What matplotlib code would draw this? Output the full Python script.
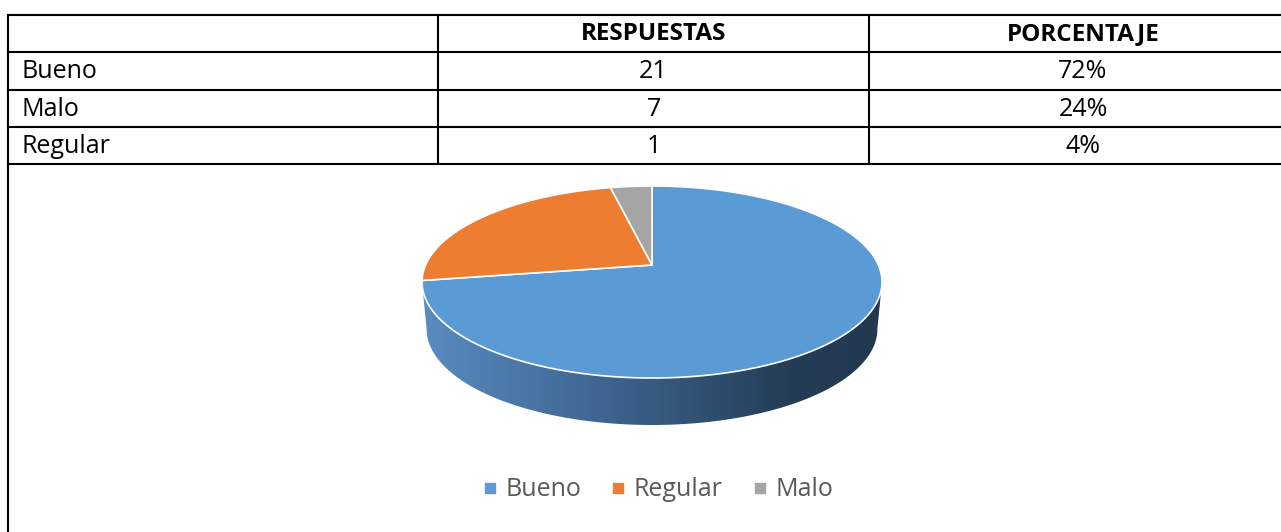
import numpy as np
import matplotlib
matplotlib.use('Agg')
import matplotlib.pyplot as plt
from matplotlib.patches import Polygon
from matplotlib.lines import Line2D
from matplotlib.colors import LinearSegmentedColormap

# ---------------- data ----------------
headers = ['', 'RESPUESTAS', 'PORCENTAJE']
row_labels = ['Bueno', 'Malo', 'Regular']
respuestas = ['21', '7', '1']
porcentaje = ['72%', '24%', '4%']

pie_labels = ['Bueno', 'Regular', 'Malo']
pie_values = [21, 7, 1]
pie_colors = ['#5B9BD5', '#ED7D31', '#A5A5A5']
side_colors = ['#5B9BD5', '#B05A20', '#7A7A7A']

# ---------------- figure ----------------
W, H = 1281, 532
fig = plt.figure(figsize=(W / 100, H / 100), dpi=100)
ax = fig.add_axes([0, 0, 1, 1])
ax.set_xlim(0, W)
ax.set_ylim(H, 0)
ax.axis('off')

TFONT = 'Open Sans'
lw = 1.5
xl, xc1, xc2, xr = 7.5, 438, 869, 1297
ys = [15, 52, 90, 127, 164]
for y in ys:
    ax.plot([xl, xr], [y, y], color='black', lw=lw, solid_capstyle='projecting')
ax.plot([xl, xl], [ys[0], H + 5], color='black', lw=lw)
for x in (xc1, xc2):
    ax.plot([x, x], [ys[0], ys[-1]], color='black', lw=lw)

col_centers = [None, (xc1 + xc2) / 2, (xc2 + xr) / 2]
ymid = [(ys[i] + ys[i + 1]) / 2 + 1 for i in range(4)]
for j, htxt in enumerate(headers):
    if htxt:
        ax.text(col_centers[j], ymid[0], htxt, ha='center', va='center',
                fontsize=17.5, fontweight='bold', family=TFONT, color='black')
for i in range(3):
    ax.text(22, ymid[i + 1], row_labels[i], ha='left', va='center',
            fontsize=18, family=TFONT, color='black')
    ax.text(col_centers[1], ymid[i + 1], respuestas[i], ha='center', va='center',
            fontsize=18, family=TFONT, color='black')
    ax.text(col_centers[2], ymid[i + 1], porcentaje[i], ha='center', va='center',
            fontsize=18, family=TFONT, color='black')

# ---------------- 3D-like pie ----------------
cx, cy, rx, ry = 652, 282, 230, 96
apex_y = 265
b = (apex_y - cy) / ry
depth = 47
shrink = 0.98


def proj(t_deg):
    t = np.radians(t_deg)
    u = np.cos(t)
    v = -np.sin(t)
    den = 1 + b * v
    up = u * np.sqrt(1 - b * b) / den
    vp = (v + b) / den
    return cx + rx * up, cy + ry * vp


def proj_bottom(t_deg):
    x, y = proj(t_deg)
    return cx + (x - cx) * shrink, y + depth


vals = np.array(pie_values, dtype=float)
fr = vals / vals.sum()
starts = 90 - 360 * np.concatenate([[0], np.cumsum(fr)[:-1]])
ends = starts - 360 * fr

t_vis_hi = np.degrees(np.arcsin(b))          # right silhouette (~ -10 deg)
t_vis_lo = -180 - np.degrees(np.arcsin(b))   # left silhouette (~ -170 deg)

side_cmap = LinearSegmentedColormap.from_list(
    'side', [(0.0, '#5A8BC2'), (0.45, '#3A6089'), (0.8, '#243D56'), (1.0, '#213850')])

for k in range(len(vals)):
    lo = max(ends[k], t_vis_lo)
    hi = min(starts[k], t_vis_hi)
    if lo < hi:
        ts = np.linspace(hi, lo, 200)
        tx, ty = proj(ts)
        bx, by = proj_bottom(ts[::-1])
        pts = np.column_stack([np.concatenate([tx, bx]), np.concatenate([ty, by])])
        poly = Polygon(pts, closed=True, facecolor='none', edgecolor='none')
        ax.add_patch(poly)
        if k == 0:
            grad = np.linspace(0, 1, 256).reshape(1, -1)
            im = ax.imshow(grad, cmap=side_cmap, aspect='auto',
                           extent=[pts[:, 0].min(), pts[:, 0].max(),
                                   pts[:, 1].max(), pts[:, 1].min()],
                           interpolation='bilinear', zorder=1)
            im.set_clip_path(poly)
        else:
            poly.set_facecolor(side_colors[k])

for k in range(len(vals)):
    ts = np.linspace(starts[k], ends[k], 300)
    tx, ty = proj(ts)
    pts = np.column_stack([np.concatenate([[cx], tx]), np.concatenate([[apex_y], ty])])
    ax.add_patch(Polygon(pts, closed=True, facecolor=pie_colors[k],
                         edgecolor='white', lw=1.2, zorder=2))

# ---------------- legend ----------------
handles = [Line2D([], [], marker='s', linestyle='none', markersize=6.5,
                  markerfacecolor=c, markeredgecolor=c) for c in pie_colors]
leg = fig.legend(handles, pie_labels, loc='center', ncol=3, frameon=False,
                 bbox_to_anchor=(658 / W, 1 - 490 / H), handlelength=0.55,
                 handletextpad=0.35, columnspacing=1.2,
                 prop={'family': 'Open Sans', 'size': 18})
for t in leg.get_texts():
    t.set_color('#595959')

fig.savefig('out.png', dpi=100, facecolor='white')
